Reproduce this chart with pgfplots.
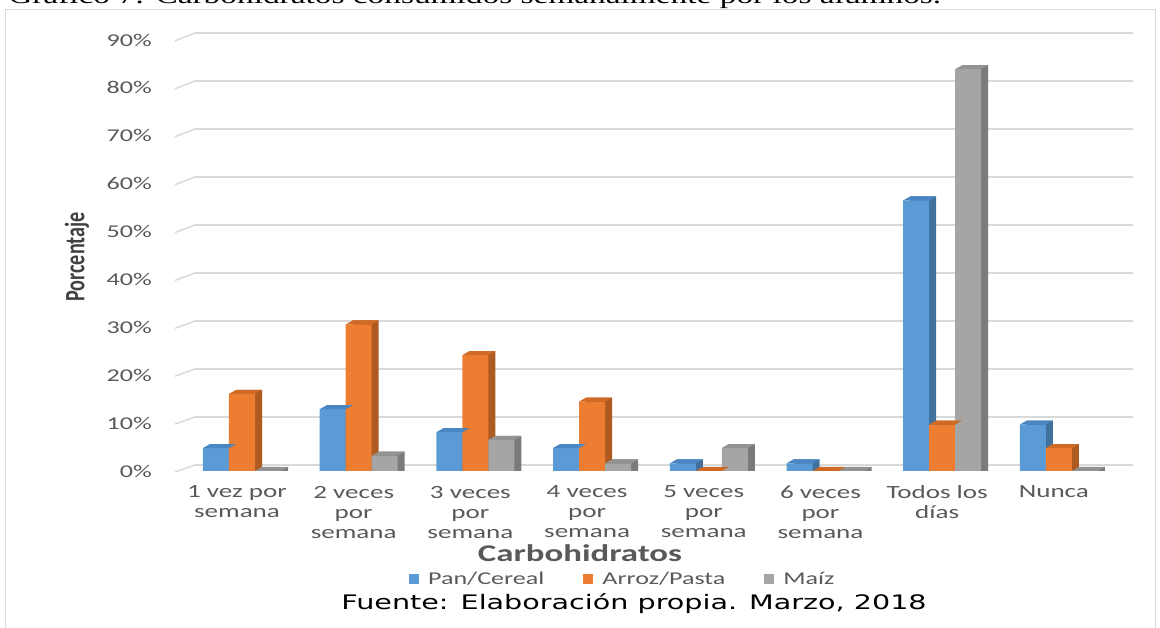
\documentclass[border=0pt]{standalone}
\usepackage{pgfplots}
\pgfplotsset{compat=1.18}
\usepackage{pgfplotstable}
\usepackage{fontspec}
\setmainfont{Carlito}
\newfontfamily\tickfont[FakeStretch=1.45]{Carlito}
\newfontfamily\ylabfont[FakeStretch=0.72]{Carlito}
\newfontfamily\fuentefont[FakeStretch=1.43]{DejaVu Sans}
\newfontfamily\capfont[FakeStretch=1.39]{Liberation Serif}

\definecolor{pan}{HTML}{5B9BD5}
\definecolor{panside}{HTML}{41719C}
\definecolor{pantop}{HTML}{4A86C2}
\definecolor{arroz}{HTML}{ED7D31}
\definecolor{arrozside}{HTML}{AE5A21}
\definecolor{arroztop}{HTML}{D06A25}
\definecolor{maiz}{HTML}{A5A5A5}
\definecolor{maizside}{HTML}{7B7B7B}
\definecolor{maiztop}{HTML}{939393}
\definecolor{gridgray}{HTML}{D9D9D9}
\definecolor{ticktext}{HTML}{595959}
\definecolor{ylabtext}{HTML}{404040}

\pgfdeclareplotmark{topface}{%
  \pgfpathmoveto{\pgfqpoint{-9.75pt}{0pt}}%
  \pgfpathlineto{\pgfqpoint{9.75pt}{0pt}}%
  \pgfpathlineto{\pgfqpoint{15pt}{3pt}}%
  \pgfpathlineto{\pgfqpoint{-4.5pt}{3pt}}%
  \pgfpathclose
  \pgfusepathqfill
}

\pgfplotstableread{
cat pan arroz maiz
0 4.8 16.1 0
1 12.9 30.6 3.2
2 8.1 24.2 6.5
3 4.8 14.5 1.6
4 1.6 0 4.8
5 1.6 0 0
6 56.5 9.7 83.9
7 9.7 4.8 0
}\datatable

\begin{document}
\begin{tikzpicture}
\path[use as bounding box] (0,0) rectangle (870pt,471pt);
\draw[gridgray, line width=0.75pt] (3.75pt,-20pt) rectangle (866.25pt,463.5pt);
\node[anchor=base west, inner sep=0pt, font={\capfont\fontsize{18}{20}\selectfont}] at (6pt,468.5pt)
  {Gráfico 7: Carbohidratos consumidos semanalmente por los alumnos.};

% back wall with gridlines
\begin{axis}[
  at={(146.25pt,122.25pt)}, anchor=south west,
  scale only axis, width=703.5pt, height=324pt,
  xmin=0, xmax=1, ymin=0, ymax=90,
  axis line style={draw=none},
  xtick=\empty, ytick={0,10,...,90}, yticklabel=\empty,
  major tick length=0pt,
  ymajorgrids, grid style={gridgray, line width=1.1pt},
]
\addplot[draw=none, forget plot] coordinates {(0,0)};
\end{axis}

\foreach \k in {0,...,9} {
  \draw[gridgray, line width=1.1pt] ({131.25pt},{(628-(472-47.9*\k))*0.75pt}) -- ({146.25pt},{(628-(465-48*\k))*0.75pt});
}

% bars
\begin{axis}[
  at={(131.25pt,117.75pt)}, anchor=south west,
  scale only axis, width=718.5pt, height=323.25pt,
  xmin=-0.5741, xmax=7.635, ymin=0, ymax=90,
  axis line style={draw=none},
  major tick length=0pt, tick style={draw=none},
  ytick={0,10,...,90},
  yticklabels={0\%,10\%,20\%,30\%,40\%,50\%,60\%,70\%,80\%,90\%},
  yticklabel style={inner sep=0pt, anchor=east, xshift=-17.25pt, font={\tickfont\fontsize{13.5}{14}\selectfont}, text=ticktext},
  xtick={-0.043,0.957,1.957,2.957,3.957,4.957,5.957,6.957},
  xticklabels={{1 vez por\\semana},{2 veces\\por\\semana},{3 veces\\por\\semana},{4 veces\\por\\semana},{5 veces\\por\\semana},{6 veces\\por\\semana},{Todos los\\días},{Nunca}},
  xticklabel style={align=center, inner sep=0pt, anchor=north, yshift=-11pt, font={\tickfont\fontsize{14}{15}\selectfont}, text=ticktext},
  legend columns=3,
  legend style={at={(0.4676,-0.2506)}, anchor=center, draw=none, fill=none,
    font={\tickfont\fontsize{13.5}{14}\selectfont}, text=ticktext,
    /tikz/every odd column/.append style={column sep=5pt},
    /tikz/every even column/.append style={column sep=27pt}},
  legend image code/.code={\fill (0pt,-3.75pt) rectangle (7.5pt,3.75pt);},
]
% Pan/Cereal
\addplot[ybar, bar width=0.2228, bar shift=0pt, fill=panside, draw=none, forget plot]
  table[x expr=\thisrow{cat}-0.2228+0.06, y expr=\thisrow{pan}+0.835] {\datatable};
\addplot[ybar, bar width=0.2228, bar shift=0pt, fill=pan, draw=none]
  table[x expr=\thisrow{cat}-0.2228, y=pan] {\datatable};
\addlegendentry{Pan/Cereal}
\addplot[only marks, mark=topface, color=pantop, mark options={fill=pantop}, forget plot]
  table[x expr=\thisrow{cat}-0.2228, y=pan] {\datatable};
% Arroz/Pasta
\addplot[ybar, bar width=0.2228, bar shift=0pt, fill=arrozside, draw=none, forget plot]
  table[x expr=\thisrow{cat}+0.06, y expr=\thisrow{arroz}+0.835] {\datatable};
\addplot[ybar, bar width=0.2228, bar shift=0pt, fill=arroz, draw=none]
  table[x expr=\thisrow{cat}, y=arroz] {\datatable};
\addlegendentry{Arroz/Pasta}
\addplot[only marks, mark=topface, color=arroztop, mark options={fill=arroztop}, forget plot]
  table[x expr=\thisrow{cat}, y=arroz] {\datatable};
% Maiz
\addplot[ybar, bar width=0.2228, bar shift=0pt, fill=maizside, draw=none, forget plot]
  table[x expr=\thisrow{cat}+0.2228+0.06, y expr=\thisrow{maiz}+0.835] {\datatable};
\addplot[ybar, bar width=0.2228, bar shift=0pt, fill=maiz, draw=none]
  table[x expr=\thisrow{cat}+0.2228, y=maiz] {\datatable};
\addlegendentry{Maíz}
\addplot[only marks, mark=topface, color=maiztop, mark options={fill=maiztop}, forget plot]
  table[x expr=\thisrow{cat}+0.2228, y=maiz] {\datatable};
\end{axis}

\node[text=ticktext, font={\tickfont\bfseries\fontsize{18}{20}\selectfont}] at (435pt,56pt) {Carbohidratos};
\node[font={\fuentefont\fontsize{15}{17}\selectfont}] at (475.5pt,18pt) {Fuente: Elaboración propia. Marzo, 2018};
\node[rotate=90, text=ylabtext, font={\ylabfont\bfseries\fontsize{21}{23}\selectfont}] at (57.75pt,278.25pt) {Porcentaje};
\end{tikzpicture}
\end{document}
